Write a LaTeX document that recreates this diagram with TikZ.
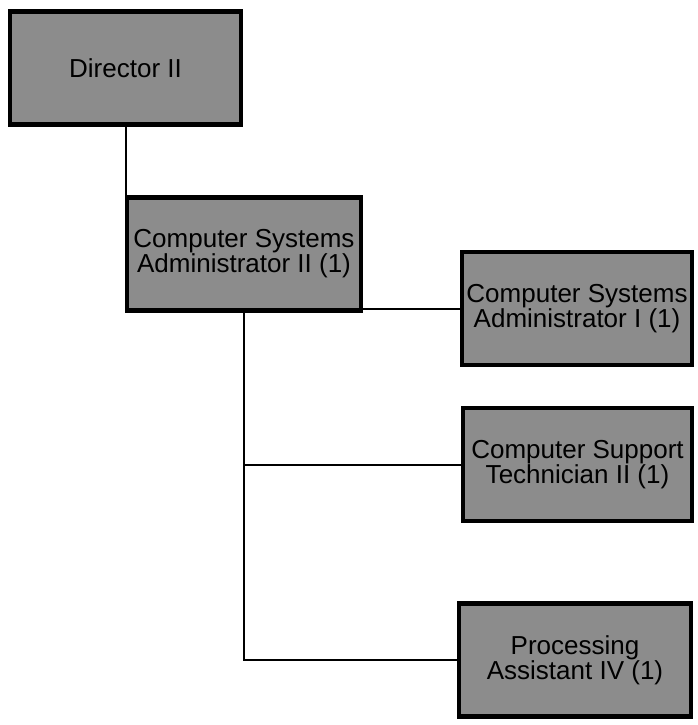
\documentclass[tikz,border=0pt]{standalone}
\usepackage{fontspec}
\setmainfont{Liberation Sans}
\begin{document}
\begin{tikzpicture}[
            x=1pt, y=-1pt,
            post/.style={draw, line width=4.5pt, fill=black!45, align=center,
                         inner sep=0pt, minimum height=113pt,
                         font=\fontsize{26}{25}\selectfont},
            every path/.style={line width=2pt}
            ]
            \useasboundingbox (0,0) rectangle (698,725);
            \node[post, minimum width=231pt] (dir)  at (125.5, 68)  {Director II};
            \node[post, minimum width=234pt] (csa2) at (244, 254)   {Computer Systems\\Administrator II (1)};
            \node[post, minimum width=230pt] (csa1) at (577, 308.5) {Computer Systems\\Administrator I (1)};
            \node[post, minimum width=229pt] (cst2) at (577.5, 464.5) {Computer Support\\Technician II (1)};
            \node[post, minimum width=232pt] (pa4)  at (575, 660)   {Processing\\Assistant IV (1)};
            \draw (dir.south) -- (dir.south |- csa2.north);
            \draw (csa1.west) -- (csa1.west -| csa2.east);
            \draw (csa2.south) |- (pa4.west);
            \draw (cst2.west) -- (cst2.west -| csa2.south);
        \end{tikzpicture}
\end{document}
